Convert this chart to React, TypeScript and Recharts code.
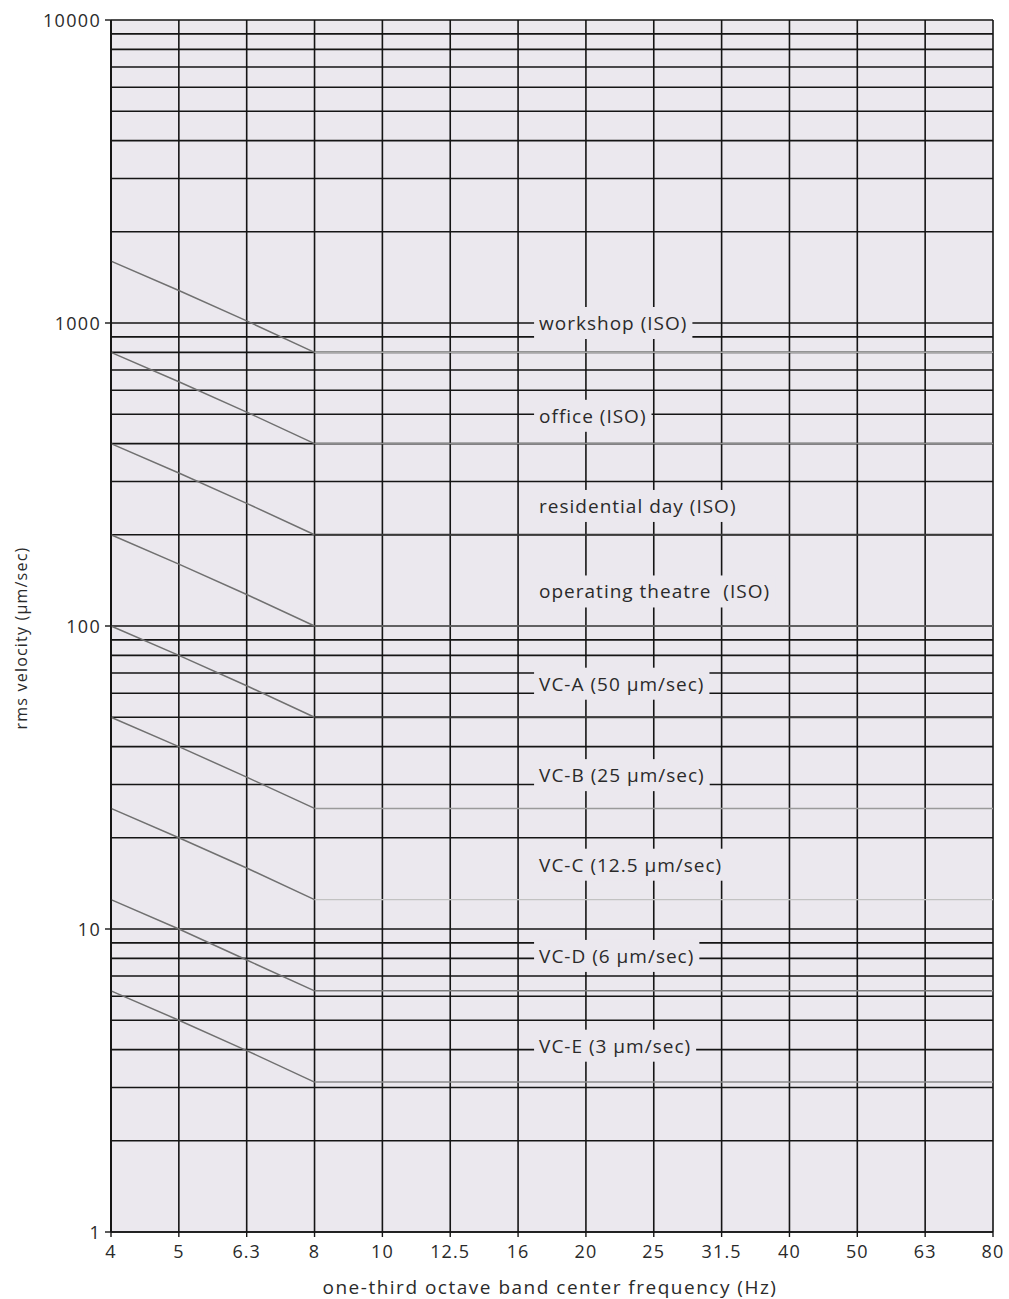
import React, { useLayoutEffect, useRef, useState } from "react";
import { LineChart, Line, XAxis, YAxis, CartesianGrid, ReferenceLine, ReferenceDot } from "recharts";

// one-third octave band centre frequencies (Hz)
const frequencies = ["4", "5", "6.3", "8", "10", "12.5", "16", "20", "25", "31.5", "40", "50", "63", "80"];

// criterion curves (µm/sec), read per band
const workshop = [1600, 1280, 1016, 800, 800, 800, 800, 800, 800, 800, 800, 800, 800, 800];
const office = [800, 640, 508, 400, 400, 400, 400, 400, 400, 400, 400, 400, 400, 400];
const residentialDay = [400, 320, 254, 200, 200, 200, 200, 200, 200, 200, 200, 200, 200, 200];
const operatingTheatre = [200, 160, 127, 100, 100, 100, 100, 100, 100, 100, 100, 100, 100, 100];
const vcA = [100, 80, 63.5, 50, 50, 50, 50, 50, 50, 50, 50, 50, 50, 50];
const vcB = [50, 40, 31.7, 25, 25, 25, 25, 25, 25, 25, 25, 25, 25, 25];
const vcC = [25, 20, 15.9, 12.5, 12.5, 12.5, 12.5, 12.5, 12.5, 12.5, 12.5, 12.5, 12.5, 12.5];
const vcD = [12.5, 10, 7.9, 6.25, 6.25, 6.25, 6.25, 6.25, 6.25, 6.25, 6.25, 6.25, 6.25, 6.25];
const vcE = [6.25, 5, 3.97, 3.125, 3.125, 3.125, 3.125, 3.125, 3.125, 3.125, 3.125, 3.125, 3.125, 3.125];

const yTicks = [1, 10, 100, 1000, 10000];
const gridValues = [
  1, 2, 3, 4, 5, 6, 7, 8, 9,
  10, 20, 30, 40, 50, 60, 70, 80, 90,
  100, 200, 300, 400, 500, 600, 700, 800, 900,
  1000, 2000, 3000, 4000, 5000, 6000, 7000, 8000, 9000,
  10000,
];

const curveNames = ["workshop (ISO)", "office (ISO)", "residential day (ISO)", "operating theatre  (ISO)", "VC-A (50 µm/sec)", "VC-B (25 µm/sec)", "VC-C (12.5 µm/sec)", "VC-D (6 µm/sec)", "VC-E (3 µm/sec)"];
const labelAnchors = [1000, 494, 249, 130, 64.5, 32.2, 16.3, 8.15, 4.12];

const series = [workshop, office, residentialDay, operatingTheatre, vcA, vcB, vcC, vcD, vcE];
const flatColors = ["#a8a8a8", "#8c8c8c", "#3a3a3a", "#6a6a6a", "#3a3a3a", "#9a9a9a", "#c2c2c2", "#7a7a7a", "#8a8a8a"];
const flatWidths = [1.5, 1.5, 2, 1.5, 2, 1.5, 1.2, 1.5, 1.5];

const breakIndex = 3; // 8 Hz

const data = frequencies.map((f, i) => {
  const row: Record<string, any> = { f };
  series.forEach((s, k) => {
    row["s" + k] = i <= breakIndex ? s[i] : null;
    row["h" + k] = i >= breakIndex ? s[i] : null;
  });
  return row;
});

const FONT = "'Open Sans', 'DejaVu Sans', sans-serif";
const BG = "#ebe8ee";
const TEXT = "#2a2a2a";

const LabelBox = ({ cx, cy, text }: { cx: number; cy: number; text: string }) => {
  const ref = useRef<SVGTextElement>(null);
  const [w, setW] = useState(150);
  useLayoutEffect(() => {
    if (ref.current) setW(ref.current.getComputedTextLength());
  }, [text]);
  const x0 = cx + 21;
  return (
    <g>
      <rect x={x0 - 5} y={cy - 16} width={w + 10} height={32} fill={BG} />
      <text
        ref={ref}
        x={x0}
        y={cy}
        dominantBaseline="central"
        fontFamily={FONT}
        fontSize={19}
        letterSpacing={1.0}
        fill={TEXT}
        style={{ whiteSpace: "pre" }}
      >
        {text}
      </text>
    </g>
  );
};

const YTick = (props: any) => {
  const { x, y, payload } = props;
  return (
    <text x={x} y={y} textAnchor="end" dominantBaseline="central" fontFamily={FONT} fontSize={18} letterSpacing={1.3} fill={TEXT}>
      {payload.value}
    </text>
  );
};

const XTick = (props: any) => {
  const { x, y, payload } = props;
  return (
    <text x={x} y={y} dy="0.72em" textAnchor="middle" fontFamily={FONT} fontSize={18} letterSpacing={1.1} fill={TEXT}>
      {payload.value}
    </text>
  );
};

export default function App() {
  return (
    <div style={{ width: 1009, height: 1299, position: "relative", overflow: "hidden" }}>
      <style>{"html,body{margin:0;padding:0;}"}</style>
      <div style={{ position: "absolute", left: 8, top: 8 }}>
        <LineChart
          width={1001}
          height={1291}
          data={data}
          margin={{ top: 12, right: 16, left: 0, bottom: 0 }}
          style={{ overflow: "visible" }}
        >
          <CartesianGrid horizontal={false} vertical={true} stroke="#151515" strokeWidth={1.6} fill={BG} />
          <XAxis
            dataKey="f"
            type="category"
            interval={0}
            height={67}
            tickSize={5}
            tickMargin={8}
            tick={<XTick />}
            axisLine={{ stroke: "#151515", strokeWidth: 1.6 }}
            tickLine={{ stroke: "#151515", strokeWidth: 1.4 }}
            padding={{ left: 0, right: 0 }}
          />
          <YAxis
            type="number"
            scale="log"
            domain={[1, 10000]}
            ticks={yTicks}
            allowDataOverflow
            width={103}
            tickSize={6}
            tickMargin={4}
            tick={<YTick />}
            axisLine={{ stroke: "#151515", strokeWidth: 1.6 }}
            tickLine={{ stroke: "#151515", strokeWidth: 1.4 }}
            interval={0}
          />
          {gridValues.map((v) => (
            <ReferenceLine key={"g" + v} y={v} stroke="#151515" strokeWidth={1.6} ifOverflow="extendDomain" />
          ))}
          {series.map((_, k) => (
            <Line
              key={"s" + k}
              dataKey={"s" + k}
              stroke="#707070"
              strokeWidth={1.5}
              dot={false}
              activeDot={false}
              isAnimationActive={false}
              connectNulls={false}
            />
          ))}
          {series.map((_, k) => (
            <Line
              key={"h" + k}
              dataKey={"h" + k}
              stroke={flatColors[k]}
              strokeWidth={flatWidths[k]}
              dot={false}
              activeDot={false}
              isAnimationActive={false}
              connectNulls={false}
            />
          ))}
          {curveNames.map((name, k) => (
            <ReferenceDot
              key={"l" + k}
              x="16"
              y={labelAnchors[k]}
              r={0}
              shape={(p: any) => <LabelBox cx={p.cx} cy={p.cy} text={name} />}
            />
          ))}
        </LineChart>
      </div>
      <div
        style={{
          position: "absolute",
          left: 21,
          top: 638,
          transform: "translate(-50%, -50%) rotate(-90deg)",
          fontFamily: FONT,
          fontSize: 16,
          lineHeight: "18px",
          letterSpacing: 1.2,
          color: TEXT,
          whiteSpace: "nowrap",
        }}
      >
        rms velocity (µm/sec)
      </div>
      <div
        style={{
          position: "absolute",
          left: 550,
          top: 1287,
          transform: "translate(-50%, -50%)",
          fontFamily: FONT,
          fontSize: 19,
          lineHeight: "20px",
          letterSpacing: 1.5,
          color: TEXT,
          whiteSpace: "nowrap",
        }}
      >
        one-third octave band center frequency (Hz)
      </div>
    </div>
  );
}
